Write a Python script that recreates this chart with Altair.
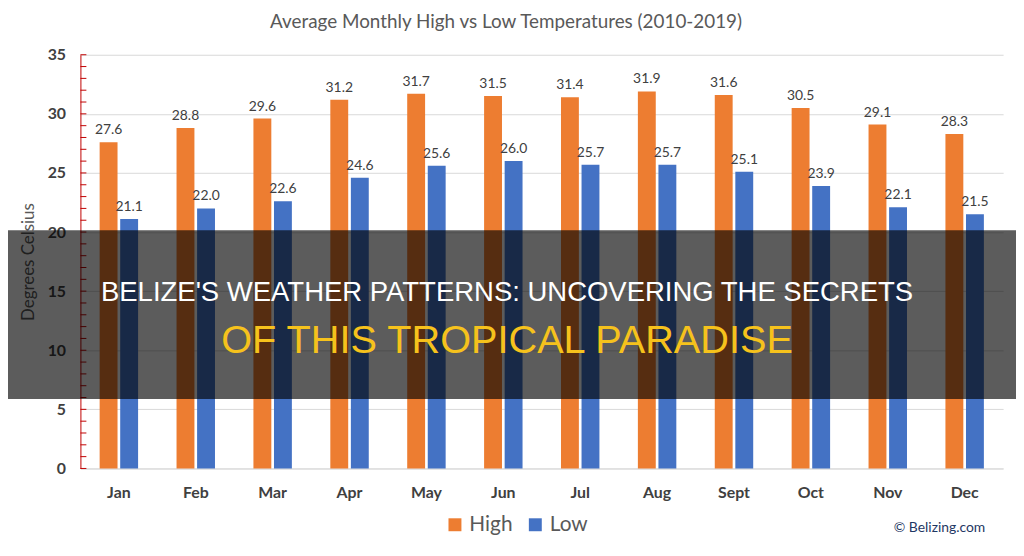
import altair as alt
import pandas as pd

months = ["Jan", "Feb", "Mar", "Apr", "May", "Jun", "Jul", "Aug", "Sept", "Oct", "Nov", "Dec"]
high = [27.6, 28.8, 29.6, 31.2, 31.7, 31.5, 31.4, 31.9, 31.6, 30.5, 29.1, 28.3]
low = [21.1, 22.0, 22.6, 24.6, 25.6, 26.0, 25.7, 25.7, 25.1, 23.9, 22.1, 21.5]
series = ["High", "Low"]
colors = ["#ED7D31", "#4472C4"]
y_ticks = [0, 5, 10, 15, 20, 25, 30, 35]
minor_ticks = list(range(0, 36))

title_text = "Average Monthly High vs Low Temperatures (2010-2019)"
headline1 = "BELIZE'S WEATHER PATTERNS: UNCOVERING THE SECRETS"
headline2 = "OF THIS TROPICAL PARADISE"
credit = "© Belizing.com"

rows = []
for m, h, l in zip(months, high, low):
    rows.append({"month": m, "series": "High", "value": h})
    rows.append({"month": m, "series": "Low", "value": l})
df = pd.DataFrame(rows)

FONT = "Lato"
HFONT = "Liberation Sans"

x_enc = alt.X(
    "month:N", sort=months,
    scale=alt.Scale(paddingInner=0.5, paddingOuter=0.25),
    axis=alt.Axis(title=None, labelAngle=0, labelFontSize=16, labelFontWeight="bold",
                  labelColor="#404040", ticks=False, domainColor="#d9d9d9",
                  labelPadding=16, labelFont=FONT),
)
xoff = alt.XOffset("series:N", sort=series, scale=alt.Scale(paddingInner=0.13))
y_enc = alt.Y(
    "value:Q", scale=alt.Scale(domain=[0, 35], nice=False),
    axis=alt.Axis(values=y_ticks, title="Degrees Celsius", titleFontSize=17,
                  titleColor="#595959", titleFontWeight="normal", titleFont=FONT,
                  labelFontSize=16, labelFontWeight="bold", labelColor="#404040",
                  labelFont=FONT, domainColor="#c00000", ticks=False,
                  gridColor="#d9d9d9", labelPadding=15, titlePadding=10),
)

bars = alt.Chart(df).mark_bar().encode(
    x=x_enc, xOffset=xoff, y=y_enc,
    color=alt.Color("series:N", sort=series,
                    scale=alt.Scale(domain=series, range=colors),
                    legend=alt.Legend(title=None, orient="none", direction="horizontal",
                                      legendX=367, legendY=463, symbolType="square",
                                      symbolSize=170, symbolStrokeWidth=0,
                                      labelFontSize=21, labelColor="#595959",
                                      labelFont=FONT, columnPadding=12)),
)

labels = alt.Chart(df).mark_text(baseline="bottom", dy=-5, fontSize=14, font=FONT).encode(
    x=x_enc, xOffset=xoff, y=alt.Y("value:Q"),
    text=alt.Text("value:Q", format=".1f"),
    color=alt.value("#404040"),
)

minor = alt.Chart(pd.DataFrame({"t": minor_ticks})).mark_rule(color="#c00000", strokeWidth=1).encode(
    y=alt.Y("t:Q"), x=alt.value(0), x2=alt.value(6),
)

one = pd.DataFrame({"k": [0]})
title = alt.Chart(one).mark_text(fontSize=19, color="#595959", font=FONT).encode(
    x=alt.value(429), y=alt.value(-33), text=alt.value(title_text))

overlay = alt.Chart(one).mark_rect(color="black", opacity=0.64).encode(
    x=alt.value(-73), x2=alt.value(945), y=alt.value(177), y2=alt.value(347))

h1 = alt.Chart(one).mark_text(fontSize=27.7, color="white", font=HFONT).encode(
    x=alt.value(430), y=alt.value(240), text=alt.value(headline1))
h2 = alt.Chart(one).mark_text(fontSize=40, color="#F6C21C", font=HFONT).encode(
    x=alt.value(430), y=alt.value(289), text=alt.value(headline2))

cred = alt.Chart(one).mark_text(fontSize=14, color="#1F3864", align="right", font=FONT).encode(
    x=alt.value(912), y=alt.value(477), text=alt.value(credit))

chart = alt.layer(bars, labels, minor, title, overlay, h1, h2, cred).properties(
    width=930, height=417,
    autosize=alt.AutoSizeParams(type="none"),
    padding={"left": 73, "top": 45, "right": 13, "bottom": 70},
).configure_view(stroke=None)

chart.save("out.html", embed_options={"renderer": "svg", "actions": False})
